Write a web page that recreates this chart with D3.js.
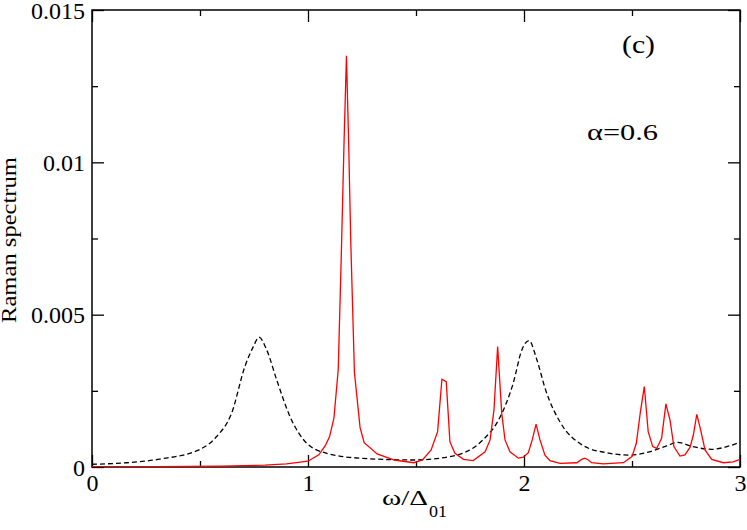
<!DOCTYPE html>
<html>
<head>
<meta charset="utf-8">
<script src="https://cdn.jsdelivr.net/npm/d3@7"></script>
<style>
  body { margin: 0; background: #fff; }
  svg { display: block; }
  .axis path { display: none; }
  .axis line { stroke: #000; stroke-width: 1.3; }
</style>
</head>
<body>
<svg id="chart" width="747" height="530"></svg>
<script>
const FONT = 'Liberation Serif';

// omega / Delta_01 values and spectra
const dashedX = [0, 0.16, 0.315, 0.5, 0.577, 0.646, 0.708, 0.747, 0.773, 0.809, 0.855, 0.917,
  0.994, 1.087, 1.24, 1.49, 1.657, 1.81, 1.89, 1.95, 1.99, 2.023, 2.06, 2.1, 2.17, 2.27,
  2.38, 2.49, 2.58, 2.66, 2.71, 2.78, 2.87, 2.94, 3];
const dashedY = [0.00009, 0.00014, 0.00026, 0.00058, 0.001, 0.00176, 0.0033, 0.00395, 0.00426,
  0.00384, 0.00286, 0.00165, 0.00078, 0.00045, 0.00029, 0.00023, 0.00034, 0.00089, 0.00165,
  0.00275, 0.00384, 0.00415, 0.00351, 0.00253, 0.00144, 0.00072, 0.00047, 0.00039, 0.0005,
  0.00069, 0.00081, 0.00067, 0.00058, 0.00067, 0.00081];

const redX = [0, 0.3, 0.6, 0.8, 0.9, 1.0, 1.05, 1.08, 1.1, 1.12, 1.14, 1.155, 1.167, 1.178,
  1.188, 1.198, 1.215, 1.241, 1.26, 1.32, 1.4, 1.49, 1.53, 1.57, 1.6, 1.62, 1.64, 1.657,
  1.68, 1.72, 1.765, 1.82, 1.843, 1.861, 1.878, 1.897, 1.912, 1.935, 1.974, 1.997, 2.02,
  2.038, 2.056, 2.074, 2.097, 2.12, 2.167, 2.244, 2.267, 2.282, 2.298, 2.313, 2.367, 2.46,
  2.5, 2.52, 2.54, 2.557, 2.575, 2.596, 2.614, 2.637, 2.657, 2.676, 2.694, 2.722, 2.745,
  2.769, 2.784, 2.8, 2.818, 2.838, 2.869, 2.923, 2.969, 3];
const redY = [0, 0.00001, 0.00003, 0.00006, 0.0001, 0.00019, 0.0004, 0.0007, 0.001, 0.0016,
  0.0032, 0.0072, 0.0107, 0.0135, 0.0107, 0.0074, 0.0031, 0.0013, 0.0008, 0.00043, 0.00023,
  0.00014, 0.00023, 0.00056, 0.00116, 0.00288, 0.0028, 0.00083, 0.00045, 0.00025, 0.00021,
  0.0005, 0.00089, 0.00187, 0.00395, 0.00176, 0.00089, 0.0005, 0.00029, 0.00032, 0.00047,
  0.00089, 0.00141, 0.00089, 0.00039, 0.00021, 0.00012, 0.00014, 0.00025, 0.00029, 0.00023,
  0.00014, 0.0001, 0.00014, 0.00034, 0.00078, 0.00187, 0.00264, 0.00116, 0.00067, 0.00061,
  0.00094, 0.00207, 0.00154, 0.00067, 0.00036, 0.0004, 0.00065, 0.00105, 0.00173, 0.00121,
  0.00056, 0.00025, 0.00014, 0.00017, 0.00025];

const xMajor = [0, 1, 2, 3];
const xMajorLabels = ['0', '1', '2', '3'];
const xMinor = [0.5, 1.5, 2.5];
const yMajor = [0, 0.005, 0.01, 0.015];
const yMajorLabels = ['0', '0.005', '0.01', '0.015'];
const yMinor = [0.0025, 0.0075, 0.0125];

const margin = {top: 10, right: 7, bottom: 63, left: 92};
const width = 747 - margin.left - margin.right;
const height = 530 - margin.top - margin.bottom;
const MAJOR_TICK = 12;
const MINOR_TICK = 6;

const svg = d3.select('#chart');
const g = svg.append('g')
    .attr('transform', `translate(${margin.left},${margin.top})`);

const x = d3.scaleLinear().domain([0, 3]).range([0, width]);
const y = d3.scaleLinear().domain([0, 0.015]).range([height, 0]);

// inward ticks on all four sides
function addTicks(axisFn, scale, values, size, labels, transform) {
  const axis = axisFn(scale).tickValues(values).tickSizeInner(-size).tickSizeOuter(0)
      .tickPadding(labels ? 7 : 0)
      .tickFormat((d, i) => labels ? labels[i] : '');
  const sel = g.append('g').attr('class', 'axis').attr('transform', transform).call(axis);
  sel.selectAll('text').attr('font-family', FONT).attr('font-size', 24);
  return sel;
}

const bottomAxis = addTicks(d3.axisBottom, x, xMajor, MAJOR_TICK, xMajorLabels, `translate(0,${height})`);
addTicks(d3.axisBottom, x, xMinor, MINOR_TICK, null, `translate(0,${height})`);
addTicks(d3.axisTop, x, xMajor, MAJOR_TICK, null, 'translate(0,0)');
addTicks(d3.axisTop, x, xMinor, MINOR_TICK, null, 'translate(0,0)');
const leftAxis = addTicks(d3.axisLeft, y, yMajor, MAJOR_TICK, yMajorLabels, 'translate(0,0)');
addTicks(d3.axisLeft, y, yMinor, MINOR_TICK, null, 'translate(0,0)');
addTicks(d3.axisRight, y, yMajor, MAJOR_TICK, null, `translate(${width},0)`);
addTicks(d3.axisRight, y, yMinor, MINOR_TICK, null, `translate(${width},0)`);

bottomAxis.selectAll('text').attr('dy', '0.71em');
leftAxis.selectAll('text').attr('dy', '0.34em');

// frame
g.append('rect')
    .attr('width', width).attr('height', height)
    .attr('fill', 'none').attr('stroke', '#000').attr('stroke-width', 1.5);

g.append('clipPath').attr('id', 'plot-clip')
    .append('rect').attr('width', width).attr('height', height);

const dashedLine = d3.line()
    .x((d, i) => x(dashedX[i]))
    .y(d => y(d))
    .curve(d3.curveMonotoneX);

const redLine = d3.line()
    .x((d, i) => x(redX[i]))
    .y(d => y(d));

g.append('path')
    .datum(dashedY)
    .attr('clip-path', 'url(#plot-clip)')
    .attr('fill', 'none')
    .attr('stroke', '#000')
    .attr('stroke-width', 1.3)
    .attr('stroke-dasharray', '5,3')
    .attr('d', dashedLine);

g.append('path')
    .datum(redY)
    .attr('clip-path', 'url(#plot-clip)')
    .attr('fill', 'none')
    .attr('stroke', '#ff0000')
    .attr('stroke-width', 1.3)
    .attr('d', redLine);

// text helper: serif label, optionally stretched to the reference width
function label(xPos, yPos, size, str, len) {
  const t = svg.append('text')
      .attr('x', xPos).attr('y', yPos)
      .attr('font-family', FONT)
      .attr('font-size', size)
      .text(str);
  if (len) t.attr('textLength', len).attr('lengthAdjust', 'spacingAndGlyphs');
  return t;
}

// axis titles
label(382, 505, 22, 'ω/Δ', 46);
label(429, 517, 17, '01', 18);

label(0, 0, 20, 'Raman spectrum', 166)
    .attr('x', null).attr('y', null)
    .attr('transform', 'translate(16,240) rotate(-90)')
    .attr('text-anchor', 'middle');

// annotations
label(622, 53, 26, '(c)', 33);
label(587, 140, 24, 'α=0.6', 71);
</script>
</body>
</html>
